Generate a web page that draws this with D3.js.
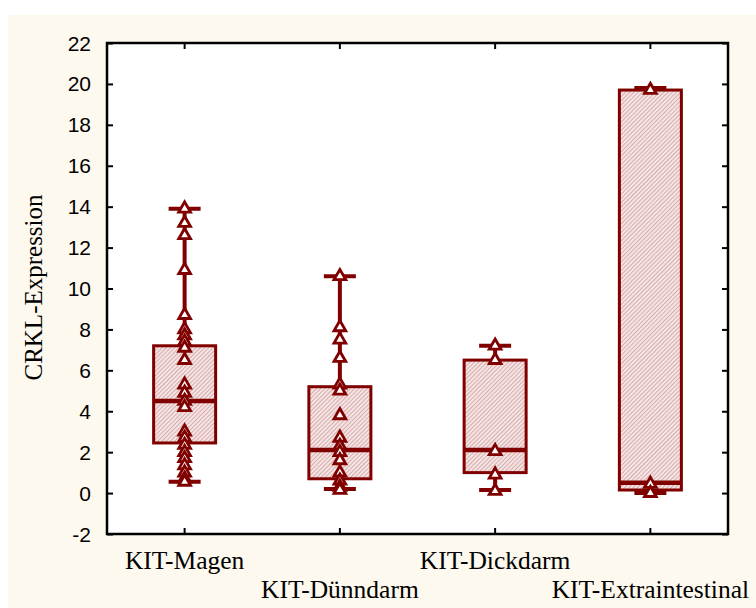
<!DOCTYPE html>
<html><head><meta charset="utf-8">
<script src="https://cdn.jsdelivr.net/npm/d3@7"></script>
<style>html,body{margin:0;padding:0;background:#fff;}svg{display:block;}</style>
</head><body>
<svg id="chart" width="756" height="608"></svg>
<script>
const categories = ["KIT-Magen","KIT-Dünndarm","KIT-Dickdarm","KIT-Extraintestinal"];
const whiskerLow  = [0.55, 0.2, 0.15, 0.0];
const whiskerHigh = [13.9, 10.6, 7.2, 19.8];
const boxLow      = [2.45, 0.7, 1.0, 0.15];
const boxHigh     = [7.2, 5.2, 6.5, 19.7];
const medians     = [4.5, 2.1, 2.1, 0.5];
const pointsMagen = [13.9,13.2,12.6,10.9,8.7,8.0,7.7,7.4,7.1,6.5,5.3,4.9,4.5,4.2,3.0,2.7,2.35,2.0,1.7,1.35,1.0,0.7,0.55];
const pointsDuenndarm = [10.6,8.1,7.5,6.6,5.3,5.0,3.8,2.7,2.3,2.0,1.6,1.0,0.6,0.3,0.15];
const pointsDickdarm = [7.2,6.5,2.05,0.9,0.1];
const pointsExtra = [19.7,0.45,0.0];
const allPoints = [pointsMagen, pointsDuenndarm, pointsDickdarm, pointsExtra];
const yTicks = [-2,0,2,4,6,8,10,12,14,16,18,20,22];
const yTitle = "CRKL-Expression";

const svg = d3.select("#chart");
const W = 756, H = 608;
const m = {left:107, right:728, top:43, bottom:534};
const dark = "#800000";

const defs = svg.append("defs");
const pat = defs.append("pattern").attr("id","hatch").attr("patternUnits","userSpaceOnUse")
  .attr("width",3).attr("height",3).attr("patternTransform","rotate(45)");
pat.append("rect").attr("width",3).attr("height",3).attr("fill","#f4e4e4");
pat.append("line").attr("x1",0).attr("y1",0).attr("x2",0).attr("y2",3)
  .attr("stroke","#cf9494").attr("stroke-width",1.4);

svg.append("rect").attr("x",8).attr("y",15).attr("width",W-8).attr("height",H-15).attr("fill","#fdf9ee");
svg.append("rect").attr("x",m.left).attr("y",m.top).attr("width",m.right-m.left).attr("height",m.bottom-m.top).attr("fill","#fff");

const x = d3.scaleBand().domain(categories).range([m.left,m.right]);
const y = d3.scaleLinear().domain([-2,22]).range([m.bottom,m.top]);

const yl = svg.append("g").attr("transform",`translate(${m.left},0)`)
  .call(d3.axisRight(y).tickValues(yTicks).tickSize(6).tickFormat(""));
const yr = svg.append("g").attr("transform",`translate(${m.right},0)`)
  .call(d3.axisLeft(y).tickValues(yTicks).tickSize(6).tickFormat(""));
const xb = svg.append("g").attr("transform",`translate(0,${m.bottom})`)
  .call(d3.axisTop(x).tickSize(6).tickFormat(""));
const xt = svg.append("g").attr("transform",`translate(0,${m.top})`)
  .call(d3.axisBottom(x).tickSize(6).tickFormat(""));
[yl,yr,xb,xt].forEach(g=>{g.select(".domain").remove(); g.selectAll("line").attr("stroke","#000").attr("stroke-width",2);});

svg.append("g").selectAll("text").data(yTicks).join("text")
  .attr("x",m.left-16).attr("y",d=>y(d)).attr("dy","0.36em").attr("text-anchor","end")
  .attr("font-family","Liberation Sans, Arial, sans-serif").attr("font-size",21).attr("fill","#000")
  .text(d=>d);

svg.append("g").selectAll("text").data(categories).join("text")
  .attr("x",d=>x(d)+x.bandwidth()/2).attr("y",(d,i)=> i%2===0 ? 569 : 598)
  .attr("text-anchor","middle").attr("font-family","Liberation Serif, Times New Roman, serif")
  .attr("font-size",25.5).attr("fill","#000").text(d=>d);

svg.append("text").attr("transform",`translate(42,${(m.top+m.bottom)/2 - 1}) rotate(-90)`)
  .attr("text-anchor","middle").attr("font-family","Liberation Serif, Times New Roman, serif")
  .attr("font-size",25).attr("fill","#000").text(yTitle);

const boxW = 62, capW = 32;
const g = svg.append("g");
categories.forEach((c,i)=>{
  const cx = x(c)+x.bandwidth()/2;
  const gg = g.append("g");
  gg.append("line").attr("x1",cx).attr("x2",cx).attr("y1",y(whiskerLow[i])).attr("y2",y(whiskerHigh[i]))
    .attr("stroke",dark).attr("stroke-width",4);
  [whiskerLow[i], whiskerHigh[i]].forEach(v=>{
    gg.append("line").attr("x1",cx-capW/2).attr("x2",cx+capW/2).attr("y1",y(v)).attr("y2",y(v))
      .attr("stroke",dark).attr("stroke-width",4);
  });
  gg.append("rect").attr("x",cx-boxW/2).attr("width",boxW).attr("y",y(boxHigh[i]))
    .attr("height",y(boxLow[i])-y(boxHigh[i])).attr("fill","url(#hatch)").attr("stroke",dark).attr("stroke-width",3);
  gg.append("line").attr("x1",cx-boxW/2).attr("x2",cx+boxW/2).attr("y1",y(medians[i])).attr("y2",y(medians[i]))
    .attr("stroke",dark).attr("stroke-width",4.5);
  const tri = d3.symbol().type(d3.symbolTriangle).size(60);
  gg.selectAll("path.pt").data(allPoints[i]).join("path").attr("class","pt")
    .attr("transform",d=>`translate(${cx},${y(d)})`).attr("d",tri)
    .attr("fill","#fff").attr("stroke",dark).attr("stroke-width",2.8);
});

svg.append("rect").attr("x",m.left).attr("y",m.top).attr("width",m.right-m.left).attr("height",m.bottom-m.top)
  .attr("fill","none").attr("stroke","#000").attr("stroke-width",2.5);
</script>
</body></html>
